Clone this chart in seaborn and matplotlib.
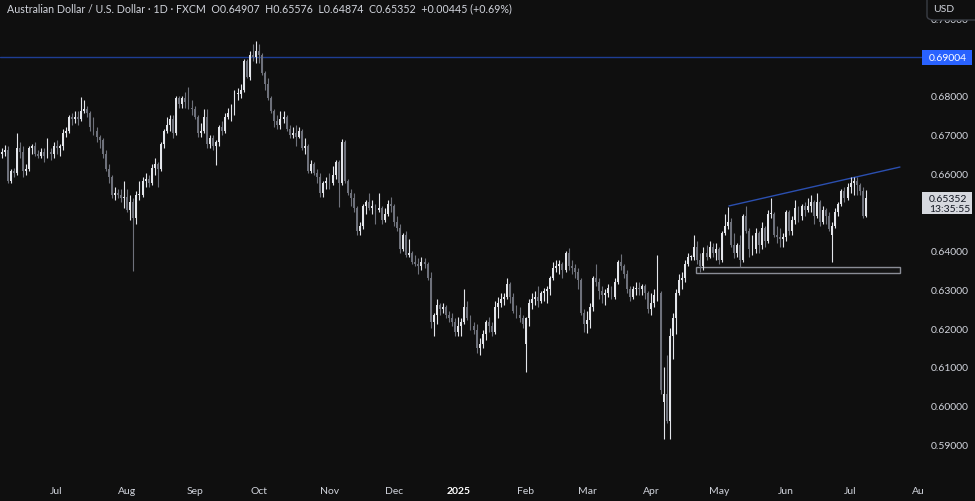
import numpy as np
import pandas as pd
import matplotlib.pyplot as plt
import matplotlib.transforms as mtransforms
from matplotlib.patches import Rectangle, FancyBboxPatch
import seaborn as sns


# ==================================================
# DATA — AUD/USD daily bars (FXCM), prices in pips (x 1e-4)
# ==================================================
holidays = pd.to_datetime(["2024-12-25", "2025-01-01"])
dates = pd.bdate_range("2024-06-05", "2025-07-08")
dates = dates[~dates.isin(holidays)]

opens = [
    # Jun 2024
    6650, 6655, 6660, 6580, 6605, 6600, 6665, 6655, 6605, 6610, 6665, 6670, 6650, 6645, 6655, 6645, 6655, 6650,
    # Jul 2024
    6670, 6665, 6670, 6705, 6710, 6745, 6740, 6745, 6740, 6760, 6765, 6755, 6720, 6710, 6695, 6685, 6650, 6610,
    6590, 6545, 6548, 6545, 6535,
    # Aug 2024
    6540, 6505, 6525, 6485, 6545, 6545, 6580, 6585, 6575, 6615, 6625, 6610, 6675, 6710, 6725, 6740, 6705, 6795,
    6780, 6795, 6785, 6770,
    # Sep 2024
    6765, 6745, 6705, 6710, 6745, 6675, 6690, 6670, 6680, 6720, 6710, 6745, 6755, 6755, 6805, 6805, 6815, 6890,
    6850, 6905, 6900,
    # Oct 2024
    6915, 6905, 6860, 6830, 6795, 6760, 6735, 6725, 6740, 6745, 6715, 6700, 6705, 6695, 6710, 6665, 6670, 6605,
    6625, 6600, 6590, 6550, 6575,
    # Nov 2024
    6580, 6575, 6595, 6630, 6575, 6680, 6580, 6550, 6535, 6510, 6450, 6465, 6515, 6525, 6510, 6515, 6505, 6510,
    6480, 6495, 6520,
    # Dec 2024
    6515, 6475, 6460, 6405, 6440, 6390, 6395, 6370, 6365, 6360, 6370, 6365, 6330, 6215, 6235, 6260, 6250, 6255,
    6235, 6225, 6215,
    # Jan 2025
    6190, 6205, 6215, 6255, 6225, 6205, 6195, 6150, 6160, 6185, 6215, 6205, 6190, 6255, 6265, 6275, 6280, 6315,
    6280, 6245, 6235, 6225,
    # Feb 2025
    6160, 6225, 6265, 6275, 6280, 6270, 6290, 6295, 6300, 6330, 6355, 6360, 6365, 6350, 6395, 6360, 6355, 6345,
    6325, 6240,
    # Mar 2025
    6210, 6220, 6255, 6330, 6320, 6295, 6285, 6290, 6305, 6280, 6320, 6370, 6360, 6340, 6300, 6280, 6300, 6305,
    6300, 6310, 6290,
    # Apr 2025
    6250, 6265, 6285, 6290, 6010, 6030, 5960, 6180, 6225, 6290, 6325, 6330, 6365, 6385, 6385, 6410, 6375, 6360,
    6395, 6385, 6410, 6395,
    # May 2025
    6405, 6375, 6445, 6465, 6475, 6415, 6395, 6415, 6375, 6490, 6450, 6405, 6405, 6445, 6415, 6460, 6425, 6495,
    6495, 6440, 6435, 6430,
    # Jun 2025
    6435, 6500, 6450, 6480, 6510, 6490, 6515, 6505, 6515, 6525, 6490, 6525, 6475, 6505, 6490, 6440, 6465, 6500,
    6520, 6555, 6535,
    # Jul 2025
    6565, 6575, 6580, 6570, 6555, 6490.7,
]

highs = [
    # Jun 2024
    6665, 6672, 6670, 6610, 6615, 6705, 6680, 6670, 6625, 6670, 6675, 6680, 6660, 6665, 6665, 6690, 6665, 6680,
    # Jul 2024
    6685, 6675, 6715, 6720, 6750, 6755, 6760, 6760, 6798, 6790, 6775, 6760, 6745, 6720, 6700, 6690, 6660, 6625,
    6595, 6565, 6560, 6560, 6580,
    # Aug 2024
    6560, 6545, 6535, 6555, 6580, 6590, 6600, 6595, 6625, 6640, 6630, 6680, 6715, 6745, 6750, 6750, 6800, 6800,
    6800, 6810, 6824, 6790,
    # Sep 2024
    6775, 6750, 6730, 6765, 6765, 6700, 6700, 6685, 6725, 6735, 6755, 6770, 6780, 6815, 6820, 6830, 6895, 6895,
    6915, 6935, 6942,
    # Oct 2024
    6935, 6910, 6865, 6845, 6800, 6765, 6750, 6760, 6760, 6750, 6725, 6720, 6725, 6720, 6715, 6690, 6675, 6635,
    6630, 6610, 6600, 6580, 6590,
    # Nov 2024
    6600, 6620, 6635, 6635, 6688, 6685, 6585, 6560, 6550, 6515, 6475, 6520, 6530, 6550, 6530, 6520, 6550, 6515,
    6510, 6530, 6540,
    # Dec 2024
    6520, 6490, 6470, 6445, 6450, 6430, 6400, 6390, 6380, 6385, 6380, 6370, 6345, 6240, 6275, 6265, 6265, 6260,
    6245, 6240, 6225,
    # Jan 2025
    6230, 6225, 6300, 6270, 6235, 6215, 6210, 6175, 6195, 6220, 6230, 6215, 6270, 6280, 6290, 6290, 6330, 6320,
    6290, 6260, 6255, 6235,
    # Feb 2025
    6230, 6275, 6290, 6295, 6310, 6295, 6305, 6310, 6335, 6370, 6375, 6375, 6370, 6400, 6408, 6375, 6365, 6355,
    6330, 6250,
    # Mar 2025
    6245, 6265, 6335, 6365, 6330, 6310, 6300, 6315, 6310, 6330, 6375, 6391, 6365, 6350, 6310, 6310, 6320, 6320,
    6315, 6315, 6295,
    # Apr 2025
    6290, 6300, 6388, 6295, 6100, 6130, 6200, 6240, 6300, 6340, 6345, 6375, 6395, 6390, 6440, 6425, 6395, 6410,
    6415, 6425, 6420, 6420,
    # May 2025
    6410, 6450, 6495, 6514, 6485, 6445, 6420, 6440, 6495, 6515, 6460, 6440, 6460, 6450, 6475, 6465, 6505, 6537,
    6500, 6465, 6460, 6445,
    # Jun 2025
    6505, 6505, 6490, 6530, 6515, 6520, 6525, 6535, 6545, 6530, 6550, 6530, 6515, 6510, 6500, 6475, 6510, 6525,
    6560, 6565, 6575,
    # Jul 2025
    6590, 6590, 6590, 6575, 6565, 6557.6,
]

lows = [
    # Jun 2024
    6640, 6645, 6575, 6575, 6590, 6595, 6640, 6590, 6595, 6605, 6650, 6645, 6640, 6640, 6630, 6640, 6635, 6640,
    # Jul 2024
    6650, 6645, 6660, 6695, 6705, 6725, 6730, 6725, 6735, 6755, 6745, 6710, 6700, 6680, 6665, 6640, 6605, 6575,
    6535, 6530, 6535, 6525, 6510,
    # Aug 2024
    6500, 6480, 6348, 6470, 6530, 6540, 6565, 6565, 6570, 6595, 6565, 6605, 6665, 6705, 6710, 6690, 6700, 6770,
    6770, 6770, 6765, 6750,
    # Sep 2024
    6740, 6695, 6695, 6705, 6665, 6665, 6660, 6622, 6670, 6700, 6705, 6740, 6735, 6750, 6790, 6795, 6810, 6845,
    6840, 6890, 6885,
    # Oct 2024
    6885, 6855, 6815, 6790, 6755, 6720, 6715, 6715, 6730, 6710, 6690, 6690, 6670, 6690, 6660, 6650, 6600, 6600,
    6595, 6575, 6538, 6540, 6560,
    # Nov 2024
    6560, 6570, 6585, 6512, 6570, 6575, 6545, 6515, 6500, 6440, 6440, 6455, 6495, 6505, 6495, 6470, 6500, 6470,
    6475, 6490, 6500,
    # Dec 2024
    6465, 6450, 6395, 6400, 6385, 6385, 6365, 6360, 6340, 6350, 6355, 6325, 6200, 6180, 6210, 6235, 6240, 6225,
    6215, 6205, 6180,
    # Jan 2025
    6180, 6180, 6210, 6220, 6195, 6185, 6135, 6131, 6150, 6170, 6190, 6180, 6185, 6225, 6255, 6260, 6275, 6265,
    6240, 6225, 6215, 6200,
    # Feb 2025
    6088, 6205, 6250, 6260, 6255, 6265, 6270, 6265, 6285, 6325, 6345, 6340, 6330, 6345, 6350, 6340, 6330, 6300,
    6235, 6190,
    # Mar 2025
    6187, 6200, 6245, 6310, 6275, 6265, 6260, 6280, 6275, 6275, 6315, 6350, 6330, 6290, 6270, 6275, 6285, 6285,
    6285, 6275, 6240,
    # Apr 2025
    6235, 6255, 6270, 6030, 5913, 5955, 5914, 6120, 6185, 6285, 6300, 6320, 6360, 6375, 6375, 6365, 6345, 6350,
    6375, 6380, 6385, 6375,
    # May 2025
    6365, 6370, 6440, 6455, 6410, 6380, 6385, 6357, 6370, 6445, 6385, 6390, 6395, 6395, 6405, 6410, 6420, 6485,
    6435, 6420, 6410, 6410,
    # Jun 2025
    6425, 6440, 6440, 6470, 6475, 6480, 6490, 6500, 6500, 6470, 6485, 6465, 6470, 6470, 6450, 6372, 6460, 6490,
    6515, 6525, 6530,
    # Jul 2025
    6550, 6545, 6545, 6545, 6485, 6487.4,
]

closes = [
    # Jun 2024
    6655, 6660, 6580, 6605, 6600, 6665, 6655, 6605, 6610, 6665, 6670, 6650, 6645, 6655, 6645, 6655, 6650, 6670,
    # Jul 2024
    6665, 6670, 6705, 6710, 6745, 6740, 6745, 6740, 6760, 6765, 6755, 6720, 6710, 6695, 6685, 6650, 6610, 6590,
    6545, 6548, 6545, 6535, 6540,
    # Aug 2024
    6505, 6525, 6485, 6545, 6545, 6580, 6585, 6575, 6615, 6625, 6610, 6675, 6710, 6725, 6740, 6705, 6795, 6780,
    6795, 6785, 6770, 6765,
    # Sep 2024
    6745, 6705, 6710, 6745, 6675, 6690, 6670, 6680, 6720, 6710, 6745, 6755, 6755, 6805, 6805, 6815, 6890, 6850,
    6905, 6900, 6915,
    # Oct 2024
    6905, 6860, 6830, 6795, 6760, 6735, 6725, 6740, 6745, 6715, 6700, 6705, 6695, 6710, 6665, 6670, 6605, 6625,
    6600, 6590, 6550, 6575, 6580,
    # Nov 2024
    6575, 6595, 6630, 6575, 6680, 6580, 6550, 6535, 6510, 6450, 6465, 6515, 6525, 6510, 6515, 6505, 6510, 6480,
    6495, 6520, 6515,
    # Dec 2024
    6475, 6460, 6405, 6440, 6390, 6395, 6370, 6365, 6360, 6370, 6365, 6330, 6215, 6235, 6260, 6250, 6255, 6235,
    6225, 6215, 6190,
    # Jan 2025
    6205, 6215, 6255, 6225, 6205, 6195, 6150, 6160, 6185, 6215, 6205, 6190, 6255, 6265, 6275, 6280, 6315, 6280,
    6245, 6235, 6225, 6210,
    # Feb 2025
    6225, 6265, 6275, 6280, 6270, 6290, 6295, 6300, 6330, 6355, 6360, 6365, 6350, 6395, 6360, 6355, 6345, 6325,
    6240, 6210,
    # Mar 2025
    6220, 6255, 6330, 6320, 6295, 6285, 6290, 6305, 6280, 6320, 6370, 6360, 6340, 6300, 6280, 6300, 6305, 6300,
    6310, 6290, 6250,
    # Apr 2025
    6265, 6285, 6290, 6040, 6030, 5960, 6180, 6225, 6290, 6325, 6330, 6365, 6385, 6385, 6410, 6375, 6360, 6395,
    6385, 6410, 6395, 6405,
    # May 2025
    6375, 6445, 6465, 6475, 6415, 6395, 6415, 6375, 6490, 6450, 6405, 6405, 6445, 6415, 6460, 6425, 6495, 6495,
    6440, 6435, 6430, 6435,
    # Jun 2025
    6500, 6450, 6480, 6510, 6490, 6515, 6505, 6515, 6525, 6490, 6525, 6475, 6505, 6490, 6455, 6465, 6500, 6520,
    6555, 6535, 6565,
    # Jul 2025
    6575, 6580, 6570, 6555, 6490, 6535.2,
]

month_labels = ["Jul", "Aug", "Sep", "Oct", "Nov", "Dec", "2025", "Feb", "Mar", "Apr", "May", "Jun", "Jul", "Aug"]
price_ticks = [0.59, 0.60, 0.61, 0.62, 0.63, 0.64, 0.66, 0.67, 0.68, 0.70]

# drawings on the chart
level_price = 0.69004
trend_x = [237.3, 293.1]
trend_y = [0.65157, 0.66162]
zone_x = [226.7, 293.1]
zone_y = [0.6342, 0.6358]

header = ("Australian Dollar / U.S. Dollar \u00b7 1D \u00b7 FXCM  O0.64907  H0.65576  "
          "L0.64874  C0.65352  +0.00445 (+0.69%)")
last_price = 0.65352
countdown = "13:35:55"

# ==================================================
# STYLE
# ==================================================
BG = "#0f0f0f"
UP = "#e3e5ea"
DOWN = "#6e717b"
TXT = "#d1d4dc"
BLUE = "#2962ff"

sns.set_theme(style="dark", rc={
    "axes.facecolor": BG, "figure.facecolor": BG, "axes.edgecolor": BG,
    "grid.color": BG, "text.color": TXT, "xtick.color": TXT, "ytick.color": TXT,
})
plt.rcParams["font.family"] = ["Lato", "DejaVu Sans"]

df = pd.DataFrame({
    "date": dates,
    "open": np.array(opens) / 1e4,
    "high": np.array(highs) / 1e4,
    "low": np.array(lows) / 1e4,
    "close": np.array(closes) / 1e4,
})
df["i"] = np.arange(len(df))
df["color"] = np.where(df["close"] >= df["open"], UP, DOWN)

# month tick positions from the (extended) trading calendar
cal = pd.bdate_range("2024-06-05", "2025-08-29")
cal = cal[~cal.isin(holidays)]
cal_s = pd.Series(np.arange(len(cal)), index=cal)
firsts = cal_s.groupby([cal.year, cal.month]).first()
month_pos = firsts.values[1:15]

# ==================================================
# FIGURE
# ==================================================
W, H = 975, 502
fig = plt.figure(figsize=(W / 100, H / 100), dpi=100)
ax = fig.add_axes([0, 22 / H, 922 / W, 480 / H])
ax.set_xlim(-0.49, 300.3)
ax.set_ylim(0.58103, 0.70503)
px = (0.70503 - 0.58103) / 480  # price units per pixel

# candles
ax.vlines(df["i"], df["low"], df["high"], colors=df["color"], linewidth=0.8, zorder=3)
body = (df["close"] - df["open"]).abs().clip(lower=0.00012)
ax.bar(df["i"], body, bottom=np.minimum(df["open"], df["close"]), width=0.62,
       color=df["color"], linewidth=0, zorder=4)

# horizontal level, trendline and support zone
ax.axhline(level_price, color="#1e3d94", linewidth=1.0, zorder=2)
sns.lineplot(x=trend_x, y=trend_y, ax=ax, color="#2b4fb0", linewidth=1.0, zorder=2)
ax.add_patch(Rectangle((zone_x[0], zone_y[0]), zone_x[1] - zone_x[0], zone_y[1] - zone_y[0],
                       facecolor=(1, 1, 1, 0.02), edgecolor="#8a8d96", linewidth=1.0, zorder=2))

# axes
for s in ax.spines.values():
    s.set_visible(False)
ax.grid(False)
ax.yaxis.tick_right()
ax.set_yticks(price_ticks)
ax.set_yticklabels([f"{v:.5f}" for v in price_ticks])
ax.tick_params(axis="y", length=0, pad=6, labelsize=7.5, labelcolor=TXT)
ax.set_xticks(month_pos)
ax.set_xticklabels(month_labels)
ax.tick_params(axis="x", length=0, pad=5, labelsize=7.5, labelcolor=TXT)
clip = Rectangle((0, 0), 923 / W, 1, transform=fig.transFigure)
for lab in ax.get_xticklabels():
    if lab.get_text() == "2025":
        lab.set_fontweight("bold")
        lab.set_color("#ffffff")
    lab.set_clip_path(clip)

# price scale labels
tr = mtransforms.blended_transform_factory(fig.transFigure, ax.transData)
ax.add_patch(Rectangle((922 / W, level_price - 7.5 * px), 50 / W, 15 * px, transform=tr,
                       facecolor=BLUE, edgecolor="none", clip_on=False, zorder=6))
ax.text(929 / W, level_price, f"{level_price:.5f}", transform=tr, color="white",
        fontsize=7.5, va="center", ha="left", clip_on=False, zorder=7)

box_c = last_price - 5 * px
ax.add_patch(Rectangle((922 / W, box_c - 11 * px), 50 / W, 22 * px, transform=tr,
                       facecolor="#d6d8de", edgecolor="none", clip_on=False, zorder=6))
ax.text(929 / W, box_c, f"{last_price:.5f}\n{countdown}", transform=tr, color="#131722",
        fontsize=7.5, va="center", ha="left", linespacing=1.05, clip_on=False, zorder=7)

# header and currency box
fig.text(7 / W, 1 - 9 / H, header, fontsize=7.7, color=TXT, va="center", ha="left")
fig.patches.append(FancyBboxPatch((927 / W, 1 - 21 / H), 60 / W, 26 / H,
                                  boxstyle="round,pad=0,rounding_size=0.008",
                                  transform=fig.transFigure, facecolor=BG,
                                  edgecolor="#3a3d45", linewidth=1.0, zorder=5))
fig.text(933 / W, 1 - 9 / H, "USD", fontsize=7.5, color=TXT, va="center", ha="left", zorder=6)

fig.savefig("out.png", dpi=100, facecolor=BG)
